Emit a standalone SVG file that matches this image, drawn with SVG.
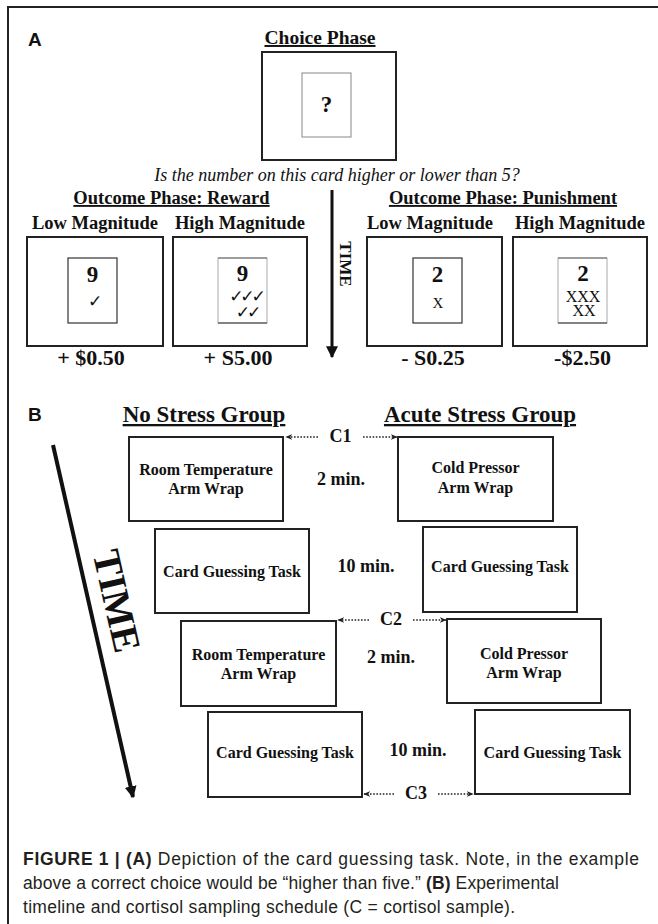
<svg xmlns="http://www.w3.org/2000/svg" width="658" height="924" viewBox="0 0 658 924">
<defs>
<style>
.s{font-family:"Liberation Serif","Times New Roman",serif;font-weight:bold;fill:#111;}
.h{font-size:18.5px;text-anchor:middle;}
.u{text-decoration:underline;}
.big{font-size:22px;text-anchor:middle;}
.bx{font-size:16px;text-anchor:middle;}
.mn{font-size:18px;text-anchor:middle;}
.frame{fill:none;stroke:#222;stroke-width:2;}
.box{fill:#fff;stroke:#222;stroke-width:2;}
.card{fill:#fff;stroke:#333;stroke-width:1.2;}
.cardl{fill:#fff;stroke:#aaa;stroke-width:1;}
.dot{stroke:#222;stroke-width:1.6;stroke-dasharray:1.6 1.6;fill:none;}
.lab{font-family:"Liberation Sans",Arial,sans-serif;font-weight:bold;font-size:19px;fill:#111;}
.cap{font-family:"Liberation Sans",Arial,sans-serif;font-size:17.5px;fill:#231f20;}
.chk{font-family:"DejaVu Sans",sans-serif;font-size:17px;text-anchor:middle;fill:#111;}
</style>
<marker id="ah" viewBox="0 0 10 10" refX="9" refY="5" markerWidth="7" markerHeight="7" orient="auto" markerUnits="userSpaceOnUse">
<path d="M0,1 L10,5 L0,9 L3,5 Z" fill="#222"/>
</marker>
<marker id="big" viewBox="0 0 10 10" refX="9" refY="5" markerWidth="12" markerHeight="12" orient="auto" markerUnits="userSpaceOnUse">
<path d="M0,0 L10,5 L0,10 Z" fill="#111"/>
</marker>
</defs>
<rect width="658" height="924" fill="#fff"/>
<path class="frame" d="M8,930 L8,7 L665,7"/>

<text class="lab" x="28" y="46">A</text>
<text class="lab" x="28" y="421">B</text>

<g id="choice">
<text class="s h u" x="320" y="44" style="font-size:19.5px">Choice Phase</text>
<rect class="box" x="262" y="52" width="134" height="108"/>
<rect class="cardl" x="302" y="73" width="49" height="64" style="stroke:#888"/>
<text class="s" x="326.5" y="112" style="font-size:23px;text-anchor:middle">?</text>
</g>
<text x="337" y="181" style="font-family:'Liberation Serif','Times New Roman',serif;font-style:italic;font-size:18px;text-anchor:middle;fill:#111">Is the number on this card higher or lower than 5?</text>

<g id="time-a">
<line x1="332" y1="190" x2="332" y2="357" stroke="#111" stroke-width="3" marker-end="url(#big)"/>
<text class="s" transform="translate(339.5,264) rotate(90)" style="font-size:17px;text-anchor:middle">TIME</text>
</g>

<g id="reward">
<text class="s h u" x="171.5" y="204">Outcome Phase: Reward</text>
<text class="s h" x="95" y="229">Low Magnitude</text>
<text class="s h" x="240" y="229">High Magnitude</text>
<g id="reward-low">
<rect class="box" x="27" y="237" width="136" height="109"/>
<rect class="card" x="68" y="258" width="49" height="65"/>
<text class="s" x="92.5" y="282" style="font-size:23px;text-anchor:middle">9</text>
<text class="chk" x="95" y="307">✓</text>
<text class="s big" x="91" y="365">+ $0.50</text>
</g>
<g id="reward-high">
<rect class="box" x="173" y="237" width="134" height="109"/>
<rect class="cardl" x="218" y="258" width="49" height="65"/>
<line x1="218" y1="258" x2="267" y2="258" stroke="#666" stroke-width="1"/>
<line x1="218" y1="323" x2="267" y2="323" stroke="#333" stroke-width="1.2"/>
<text class="s" x="242.5" y="281" style="font-size:23px;text-anchor:middle">9</text>
<text class="chk" style="letter-spacing:-3px"><tspan x="246" y="302">✓✓✓</tspan><tspan x="247" y="318">✓✓</tspan></text>
<text class="s big" x="238" y="365">+ S5.00</text>
</g>
</g>

<g id="punish">
<text class="s h u" x="503" y="204">Outcome Phase: Punishment</text>
<text class="s h" x="430" y="229">Low Magnitude</text>
<text class="s h" x="580" y="229">High Magnitude</text>
<g id="punish-low">
<rect class="box" x="367" y="237" width="135" height="109"/>
<rect class="card" x="413" y="258" width="49" height="65"/>
<text class="s" x="437.5" y="282" style="font-size:23px;text-anchor:middle">2</text>
<text x="438" y="308" style="font-family:'Liberation Serif',serif;font-size:15px;text-anchor:middle;fill:#111">X</text>
<text class="s big" x="433" y="365">- S0.25</text>
</g>
<g id="punish-high">
<rect class="box" x="513" y="237" width="134" height="109"/>
<rect class="cardl" x="558" y="258" width="49" height="65"/>
<line x1="558" y1="258" x2="607" y2="258" stroke="#666" stroke-width="1"/>
<line x1="558" y1="323" x2="607" y2="323" stroke="#333" stroke-width="1.2"/>
<text class="s" x="583" y="281" style="font-size:23px;text-anchor:middle">2</text>
<text style="font-family:'Liberation Serif',serif;font-size:16px;text-anchor:middle;fill:#111"><tspan x="583" y="302">XXX</tspan><tspan x="584" y="316">XX</tspan></text>
<text class="s big" x="582.5" y="365">-$2.50</text>
</g>
</g>

<text class="s u" x="204" y="422" style="font-size:23px;text-anchor:middle">No Stress Group</text>
<text class="s u" x="480" y="422" style="font-size:23px;text-anchor:middle">Acute Stress Group</text>

<g id="time-b">
<line x1="53" y1="445" x2="133" y2="797" stroke="#111" stroke-width="4" marker-end="url(#big)"/>
<text class="s" transform="translate(104,604) rotate(77.2)" style="font-size:39px;text-anchor:middle">TIME</text>
</g>

<g id="n1">
<rect class="box" x="129" y="437" width="154" height="84"/>
<text class="s bx" x="206" y="475">Room Temperature</text>
<text class="s bx" x="206" y="494">Arm Wrap</text>
</g>
<g id="s1">
<rect class="box" x="398" y="437" width="155" height="84"/>
<text class="s bx" x="475.5" y="473">Cold Pressor</text>
<text class="s bx" x="475.5" y="493">Arm Wrap</text>
</g>
<text class="s mn" x="341" y="485">2 min.</text>

<g id="n2">
<rect class="box" x="155" y="529" width="154" height="84"/>
<text class="s bx" x="232" y="577">Card Guessing Task</text>
</g>
<g id="s2">
<rect class="box" x="423" y="527" width="154" height="85"/>
<text class="s bx" x="500" y="572">Card Guessing Task</text>
</g>
<text class="s mn" x="366" y="572">10 min.</text>

<g id="n3">
<rect class="box" x="181" y="621" width="155" height="85"/>
<text class="s bx" x="258.5" y="660">Room Temperature</text>
<text class="s bx" x="258.5" y="679">Arm Wrap</text>
</g>
<g id="s3">
<rect class="box" x="447" y="619" width="154" height="84"/>
<text class="s bx" x="524" y="659">Cold Pressor</text>
<text class="s bx" x="524" y="678">Arm Wrap</text>
</g>
<text class="s mn" x="391" y="663">2 min.</text>

<g id="n4">
<rect class="box" x="208" y="712" width="154" height="85"/>
<text class="s bx" x="285" y="758">Card Guessing Task</text>
</g>
<g id="s4">
<rect class="box" x="475" y="710" width="155" height="84"/>
<text class="s bx" x="552.5" y="758">Card Guessing Task</text>
</g>
<text class="s mn" x="418" y="756">10 min.</text>

<g id="connectors">
<line class="dot" x1="318" y1="437" x2="286" y2="437" marker-end="url(#ah)"/>
<line class="dot" x1="363" y1="437" x2="397" y2="437" marker-end="url(#ah)"/>
<line class="dot" x1="369" y1="620" x2="338" y2="620" marker-end="url(#ah)"/>
<line class="dot" x1="413" y1="620" x2="446" y2="620" marker-end="url(#ah)"/>
<line class="dot" x1="394" y1="794" x2="364" y2="794" marker-end="url(#ah)"/>
<line class="dot" x1="438" y1="794" x2="473" y2="794" marker-end="url(#ah)"/>
</g>
<text class="s" x="340.5" y="442" style="font-size:18px;text-anchor:middle">C1</text>
<text class="s" x="391" y="625" style="font-size:18px;text-anchor:middle">C2</text>
<text class="s" x="416" y="799" style="font-size:18px;text-anchor:middle">C3</text>

<g id="caption">
<text class="cap" x="23" y="865" textLength="616" lengthAdjust="spacing"><tspan font-weight="bold">FIGURE 1 | (A)</tspan> Depiction of the card guessing task. Note, in the example</text>
<text class="cap" x="23" y="889" textLength="536" lengthAdjust="spacing">above a correct choice would be “higher than five.” <tspan font-weight="bold">(B)</tspan> Experimental</text>
<text class="cap" x="23" y="913" textLength="492" lengthAdjust="spacing">timeline and cortisol sampling schedule (C = cortisol sample).</text>
</g>
</svg>
